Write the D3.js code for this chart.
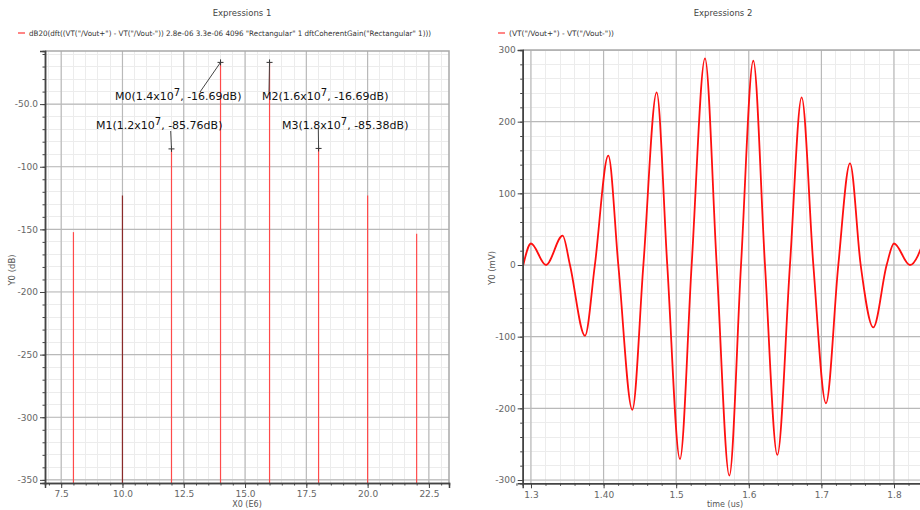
<!DOCTYPE html>
<html><head><meta charset="utf-8">
<script src="https://cdn.jsdelivr.net/npm/d3@7"></script>
<style>body{margin:0;background:#fff}svg{display:block}</style>
</head><body><svg id="c" width="920" height="510"></svg>
<script>
// ---------- data ----------
const specFreq = [8, 10, 12, 14, 16, 18, 20, 22];            // X0 (E6)
const specDb   = [-152.2, -122.9, -85.76, -16.69, -16.69, -85.38, -123.0, -153.5];
const markerName = ["M0", "M1", "M2", "M3"];
const markerFreq = [14, 12, 16, 18];
const markerDb   = [-16.69, -85.76, -16.69, -85.38];
const markerMant = ["1.4", "1.2", "1.6", "1.8"];
const leftYTicks = [-50, -100, -150, -200, -250, -300, -350];
const leftYLabels = ["-50.0", "-100", "-150", "-200", "-250", "-300", "-350"];
const leftXTicks = [7.5, 10, 12.5, 15, 17.5, 20, 22.5];
const leftXLabels = ["7.5", "10.0", "12.5", "15.0", "17.5", "20.0", "22.5"];

const waveT = [1.2894, 1.3000, 1.3207, 1.3436, 1.3537, 1.3744, 1.3880, 1.4065, 1.4203, 1.4396,
               1.4548, 1.4731, 1.4877, 1.5052, 1.5213, 1.5397, 1.5558, 1.5732, 1.5893, 1.6062,
               1.6223, 1.6393, 1.6567, 1.6728, 1.6889, 1.7063, 1.7233, 1.7394, 1.7541, 1.7715,
               1.7899, 1.8000, 1.8220, 1.8436];
const waveV = [0, 30, 0, 41, 0, -98.7, 0, 152.5, 0, -202,
               0, 240.8, 0, -270.7, 0, 288.3, 0, -294, 0, 285,
               0, -265, 0, 233.9, 0, -193, 0, 141.8, 0, -87,
               0, 30, 0, 41];
const rightYTicks = [300, 200, 100, 0, -100, -200, -300];
const rightYLabels = ["300", "200", "100", "0", "-100", "-200", "-300"];
const rightXTicks = [1.3, 1.4, 1.5, 1.6, 1.7, 1.8];
const rightXLabels = ["1.3", "1.40", "1.5", "1.6", "1.7", "1.8"];

// ---------- layout ----------
const svg = d3.select("#c");
const FONT = "'DejaVu Sans', sans-serif";
const tickCol = "#666", majCol = "#b9b9b9", minCol = "#ececec", axCol = "#444";

function panel(o) {
  const g = svg.append("g");
  const [x0, x1] = o.x.range(), [y0, y1] = o.y.range();
  const id = "clip" + o.id;
  svg.append("clipPath").attr("id", id).append("rect")
    .attr("x", x0).attr("y", y1).attr("width", x1 - x0).attr("height", y0 - y1);
  const gr = g.append("g").attr("clip-path", `url(#${id})`);
  // minor grid
  gr.selectAll(".mx").data(o.minorX).join("line")
    .attr("x1", d => o.x(d)).attr("x2", d => o.x(d)).attr("y1", y1).attr("y2", y0)
    .attr("stroke", minCol).attr("stroke-width", 1).attr("shape-rendering", "crispEdges");
  gr.selectAll(".my").data(o.minorY).join("line")
    .attr("y1", d => o.y(d)).attr("y2", d => o.y(d)).attr("x1", x0).attr("x2", x1)
    .attr("stroke", minCol).attr("stroke-width", 1).attr("shape-rendering", "crispEdges");
  // major grid
  gr.selectAll(".Mx").data(o.xTicks).join("line")
    .attr("x1", d => o.x(d)).attr("x2", d => o.x(d)).attr("y1", y1).attr("y2", y0)
    .attr("stroke", majCol).attr("stroke-width", 1.2);
  gr.selectAll(".My").data(o.yTicks).join("line")
    .attr("y1", d => o.y(d)).attr("y2", d => o.y(d)).attr("x1", x0).attr("x2", x1)
    .attr("stroke", majCol).attr("stroke-width", 1.2);
  // frame top/right
  g.append("path").attr("d", `M${x0},${y1}H${x1}V${y0}`).attr("fill", "none")
    .attr("stroke", "#a9a9a9").attr("stroke-width", 1.5);
  o.draw(gr);
  // axes
  const ax = g.append("g").attr("transform", `translate(0,${y0})`)
    .call(d3.axisBottom(o.x).tickValues(o.xTicks).tickFormat((d, i) => o.xLabels[i]).tickSizeOuter(0).tickSize(5).tickPadding(3));
  const axm = g.append("g").attr("transform", `translate(0,${y0})`)
    .call(d3.axisBottom(o.x).tickValues(o.minorX).tickFormat("").tickSizeOuter(0).tickSize(2.5));
  const ay = g.append("g").attr("transform", `translate(${x0},0)`)
    .call(d3.axisLeft(o.y).tickValues(o.yTicks).tickFormat((d, i) => o.yLabels[i]).tickSizeOuter(0).tickSize(5).tickPadding(2));
  const aym = g.append("g").attr("transform", `translate(${x0},0)`)
    .call(d3.axisLeft(o.y).tickValues(o.minorY).tickFormat("").tickSizeOuter(0).tickSize(2.5));
  [ax, axm, ay, aym].forEach(a => {
    a.select(".domain").attr("stroke", axCol).attr("stroke-width", 1.5);
    a.selectAll(".tick line").attr("stroke", axCol);
    a.selectAll("text").attr("fill", tickCol).attr("font-size", 9).attr("font-family", FONT);
  });
  // titles
  svg.append("text").attr("x", o.titleX).attr("y", 16).attr("text-anchor", "middle")
    .attr("font-family", FONT).attr("font-size", 8.5).attr("fill", "#444").text(o.title);
  svg.append("line").attr("x1", o.legX).attr("x2", o.legX + 7).attr("y1", 33).attr("y2", 33)
    .attr("stroke", "#f33").attr("stroke-width", 1.2);
  svg.append("text").attr("x", o.legX + 11).attr("y", 35.5).attr("font-family", FONT)
    .attr("font-size", 7.5).attr("fill", "#333").attr("textLength", o.legLen).attr("lengthAdjust", "spacingAndGlyphs").text(o.legend);
  svg.append("text").attr("x", o.xLabX).attr("y", 506.5).attr("text-anchor", "middle")
    .attr("font-family", FONT).attr("font-size", 8).attr("fill", "#555").text(o.xLabel);
  svg.append("text").attr("transform", `translate(${o.yLabX},${o.yLabY}) rotate(-90)`).attr("text-anchor", "middle")
    .attr("font-family", FONT).attr("font-size", 8.5).attr("fill", "#555").text(o.yLabel);
}

const xL = d3.scaleLinear().domain([6.84, 23.32]).range([45, 449]);
const yL = d3.scaleLinear().domain([-352.5, -7.6]).range([483, 51]);
const xR = d3.scaleLinear().domain([1.2886, 1.8427]).range([522.7, 925]);
const yR = d3.scaleLinear().domain([-304.6, 300]).range([483.3, 50]);

panel({
  id: "L", x: xL, y: yL,
  xTicks: leftXTicks, xLabels: leftXLabels, yTicks: leftYTicks, yLabels: leftYLabels,
  minorX: d3.range(7, 23.01, 0.5), minorY: d3.range(-350, -9, 10),
  title: "Expressions 1", titleX: 242, legX: 18, legLen: 402,
  legend: 'dB20(dft((VT("/Vout+") - VT("/Vout-")) 2.8e-06 3.3e-06 4096 "Rectangular" 1 dftCoherentGain("Rectangular" 1)))',
  xLabel: "X0 (E6)", xLabX: 247, yLabel: "Y0 (dB)", yLabX: 15, yLabY: 270,
  draw: gr => {
    gr.selectAll(".spec").data(specFreq).join("line")
      .attr("x1", d => xL(d)).attr("x2", d => xL(d))
      .attr("y1", (d, i) => yL(specDb[i])).attr("y2", yL(-352.5))
      .attr("stroke", (d, i) => i === 1 ? "#8a2a2a" : "#ff4a4a").attr("stroke-width", 1.2);
  }
});

panel({
  id: "R", x: xR, y: yR,
  xTicks: rightXTicks, xLabels: rightXLabels, yTicks: rightYTicks, yLabels: rightYLabels,
  minorX: d3.range(1.28, 1.85, 0.02), minorY: d3.range(-300, 301, 20),
  title: "Expressions 2", titleX: 723, legX: 498, legLen: 105,
  legend: '(VT("/Vout+") - VT("/Vout-"))',
  xLabel: "time (us)", xLabX: 725, yLabel: "Y0 (mV)", yLabX: 495, yLabY: 268,
  draw: gr => {
    const pts = waveT.map((t, i) => [t, waveV[i]]);
    gr.append("path").datum(pts)
      .attr("d", d3.line().x(d => xR(d[0])).y(d => yR(d[1])).curve(d3.curveMonotoneX))
      .attr("fill", "none").attr("stroke", "#ff1010").attr("stroke-width", 1.8);
  }
});

// markers (left panel)
const mk = svg.append("g");
markerName.forEach((n, i) => {
  const px = xL(markerFreq[i]), py = yL(markerDb[i]);
  mk.append("path").attr("d", `M${px - 3},${py}H${px + 3}M${px},${py - 3}V${py + 3}`)
    .attr("stroke", "#333").attr("stroke-width", 1);
});
// leader lines & labels
const labPos = [[115, 100, 200, 92, 0], [96, 129, 170.7, 131, 1], [262, 100, 269, 92, 2], [282, 129, 318.3, 128, 3]];
labPos.forEach(([lx, ly, ex, ey, i]) => {
  const px = xL(markerFreq[i]), py = yL(markerDb[i]);
  mk.append("line").attr("x1", px).attr("y1", py).attr("x2", ex).attr("y2", ey)
    .attr("stroke", "#444").attr("stroke-width", 1);
  const t = mk.append("text").attr("x", lx).attr("y", ly).attr("font-family", FONT)
    .attr("font-size", 11).attr("fill", "#111");
  t.append("tspan").text(`${markerName[i]}(${markerMant[i]}x10`);
  t.append("tspan").attr("dy", -4).attr("font-size", 10).text("7");
  t.append("tspan").attr("dy", 4).text(`, ${markerDb[i].toFixed(2)}dB)`);
});
</script></body></html>
